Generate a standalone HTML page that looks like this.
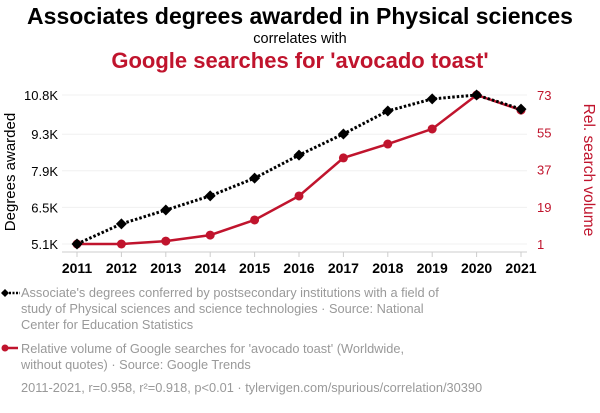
<!DOCTYPE html>
<html><head><meta charset="utf-8"><style>
body{margin:0;width:600px;height:408px;background:#fff;font-family:"Liberation Sans",sans-serif;overflow:hidden}
</style></head><body>
<svg id="c" width="600" height="408" xmlns="http://www.w3.org/2000/svg">
<text x="300" y="24" text-anchor="middle" font-size="23" font-weight="bold" fill="#000">Associates degrees awarded in Physical sciences</text>
<text x="300" y="43" text-anchor="middle" font-size="14.5" fill="#000">correlates with</text>
<text x="300" y="68" text-anchor="middle" font-size="22" font-weight="bold" fill="#c0142d">Google searches for 'avocado toast'</text>
<g id="grid"></g><g id="axes"></g><g id="series"></g>
<text transform="translate(15,172) rotate(-90)" text-anchor="middle" font-size="15" fill="#000">Degrees awarded</text>
<text transform="translate(584,170) rotate(90)" text-anchor="middle" font-size="15.5" fill="#c0142d">Rel. search volume</text>
<g font-size="12.8" fill="#999">
<line x1="2" y1="293" x2="20" y2="293" stroke="#000" stroke-width="2.5" stroke-dasharray="2,1.5"/>
<path d="M1 293 L5 289 L9 293 L5 297Z" fill="#000"/>
<text x="21" y="297"><tspan x="21">Associate's degrees conferred by postsecondary institutions with a field of</tspan><tspan x="21" dy="16">study of Physical sciences and science technologies · Source: National</tspan><tspan x="21" dy="16">Center for Education Statistics</tspan></text>
<line x1="2" y1="348" x2="18" y2="348" stroke="#c0142d" stroke-width="2.5"/>
<circle cx="5" cy="348" r="3.5" fill="#c0142d"/>
<text x="21" y="353"><tspan x="21">Relative volume of Google searches for 'avocado toast' (Worldwide,</tspan><tspan x="21" dy="16">without quotes) · Source: Google Trends</tspan></text>
<text x="21" y="392">2011-2021, r=0.958, r²=0.918, p&lt;0.01 · tylervigen.com/spurious/correlation/30390</text>
</g>
</svg>
<script>
const years=[2011,2012,2013,2014,2015,2016,2017,2018,2019,2020,2021];
const degrees=[5.1,5.87,6.40,6.94,7.62,8.50,9.31,10.19,10.65,10.8,10.26];
const searches=[1,1,2.4,5.3,12.6,24.2,42.6,49.3,56.6,73,65.7];
const leftTicks=[5.1,6.5,7.9,9.3,10.8];
const leftLabels=["5.1K","6.5K","7.9K","9.3K","10.8K"];
const rightTicks=[1,19,37,55,73];
const NS="http://www.w3.org/2000/svg";
const x=i=>77+(i)*(521-77)/(years.length-1);
const yL=v=>244-(v-5.1)/(10.8-5.1)*149;
const yR=v=>244-(v-1)/(73-1)*149;
function mk(t,a,p){const e=document.createElementNS(NS,t);for(const k in a)e.setAttribute(k,a[k]);p.appendChild(e);return e;}
const grid=document.getElementById('grid'),axes=document.getElementById('axes'),ser=document.getElementById('series');
leftTicks.forEach((v,i)=>{
 const g=mk('line',{x1:62,x2:527,y1:yL(v),y2:yL(v),stroke:'#f0f0f0'},grid);
 
 
 const t=mk('text',{x:58,y:yL(v)+5,'text-anchor':'end','font-size':13,fill:'#000'},axes);t.textContent=leftLabels[i];
 
 
});
rightTicks.forEach(v=>{
 const t=mk('text',{x:537,y:yR(v)+5,'font-size':13,fill:'#c0142d'},axes);t.textContent=v;
 
 
});
const base=mk('line',{x1:62,x2:527,y1:252,y2:252,stroke:'#ccc'},axes);


years.forEach((yr,i)=>{
 const tk=mk('line',{x1:x(i),x2:x(i),y1:252,y2:257,stroke:'#ccc'},axes);
 
 
 const t=mk('text',{x:x(i),y:273,'text-anchor':'middle','font-size':14,'font-weight':'bold',fill:'#000'},axes);t.textContent=yr;
 
 
});
const rl=mk('polyline',{points:searches.map((v,i)=>x(i)+','+yR(v)).join(' '),fill:'none',stroke:'#c0142d','stroke-width':2.5},ser);


searches.forEach((v,i)=>{const c=mk('circle',{cx:x(i),cy:yR(v),r:4.5,fill:'#c0142d'},ser);
 
 });
const bl=mk('polyline',{points:degrees.map((v,i)=>x(i)+','+yL(v)).join(' '),fill:'none',stroke:'#000','stroke-width':3,'stroke-dasharray':'2.5,2'},ser);


degrees.forEach((v,i)=>{const X=x(i),Y=yL(v);const p=mk('path',{d:`M${X-5.5} ${Y} L${X} ${Y-5.5} L${X+5.5} ${Y} L${X} ${Y+5.5}Z`,fill:'#000'},ser);
 
 });
</script>
</body></html>
